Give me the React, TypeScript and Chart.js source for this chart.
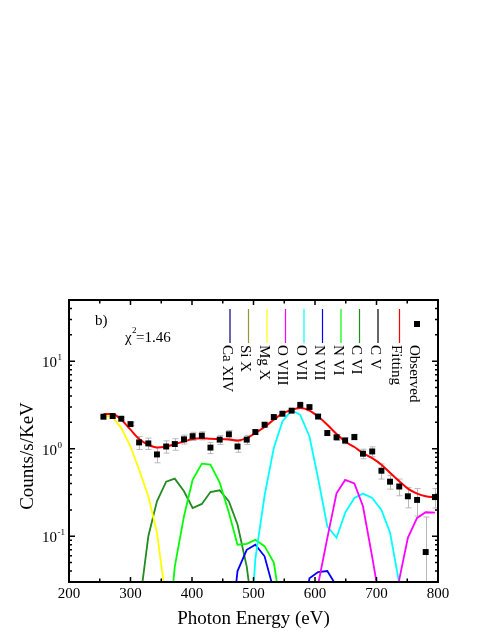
import React, { useEffect, useRef } from "react";
import { Chart, registerables } from "chart.js";

Chart.register(...registerables);

// Photon energy grid (eV) shared by observed points and model components
const energies = [256, 271, 285, 300, 314, 329, 343, 358, 372, 387, 401, 416, 430, 445, 460, 474, 489, 503, 518, 533, 547, 562, 576, 591, 605, 620, 635, 649, 664, 678, 693, 708, 722, 737, 751, 766, 780, 795];

// Observed spectrum (Counts/s/KeV) and its error
const observed = [2.32, 2.36, 2.2, 1.91, 1.18, 1.15, 0.86, 1.06, 1.13, 1.28, 1.39, 1.41, 1.03, 1.27, 1.46, 1.06, 1.27, 1.55, 1.88, 2.3, 2.51, 2.72, 3.17, 2.99, 2.33, 1.51, 1.35, 1.24, 1.36, 0.877, 0.93, 0.56, 0.42, 0.37, 0.286, 0.26, 0.066, 0.28];
const observedErr = [0.07, 0.07, 0.07, 0.07, 0.2, 0.17, 0.17, 0.17, 0.17, 0.15, 0.15, 0.15, 0.15, 0.15, 0.15, 0.15, 0.15, 0.1, 0.1, 0.1, 0.1, 0.1, 0.1, 0.1, 0.1, 0.1, 0.1, 0.1, 0.1, 0.11, 0.12, 0.11, 0.075, 0.08, 0.075, 0.09, 0.1, 0.07];

// Total model fit
const fitting = [2.5, 2.5, 2.14, 1.65, 1.29, 1.11, 1.035, 1.06, 1.13, 1.21, 1.29, 1.32, 1.3, 1.29, 1.27, 1.24, 1.32, 1.51, 1.77, 2.14, 2.51, 2.78, 2.91, 2.73, 2.33, 1.88, 1.47, 1.21, 1.045, 0.893, 0.78, 0.657, 0.53, 0.424, 0.35, 0.307, 0.286, 0.279];

const N = null;
// Line components (null = not computed at that energy)
const caXIV: (number | null)[] = []; // below plotted range
const siX: (number | null)[] = []; // below plotted range
const mgX = [2.4, 2.3, 1.72, 1.06, 0.575, 0.286, 0.11, 0.018, 0.003, N, N, N, N, N, N, N, N, N, N, N, N, N, N, N, N, N, N, N, N, N, N, N, N, N, N, N, N, N];
const oVIII = [N, N, N, N, N, N, N, N, N, N, N, N, N, N, N, N, N, N, N, N, N, N, N, 0.001, 0.028, 0.095, 0.31, 0.44, 0.4, 0.22, 0.058, 0.014, 0.002, 0.032, 0.096, 0.162, 0.188, 0.186];
const oVII = [N, N, N, N, N, N, N, N, N, N, N, N, N, N, N, N, 0.002, 0.055, 0.29, 1.02, 2.05, 2.75, 2.44, 1.38, 0.46, 0.13, 0.096, 0.185, 0.274, 0.307, 0.274, 0.2, 0.11, 0.029, 0.003, N, N, N];
const nVII = [N, N, N, N, N, N, N, N, N, N, N, N, N, N, 0.005, 0.04, 0.07, 0.08, 0.059, 0.024, 0.003, 0.001, 0.008, 0.033, 0.039, 0.04, 0.027, 0.004, N, N, N, N, N, N, N, N, N, N];
const nVI = [N, N, N, N, N, N, 0.001, 0.004, 0.045, 0.17, 0.44, 0.675, 0.658, 0.41, 0.185, 0.08, 0.082, 0.091, 0.077, 0.05, 0.012, 0.002, N, N, N, N, N, N, N, N, N, N, N, N, N, N, N, N];
const cVI = [N, N, N, 0.001, 0.015, 0.1, 0.25, 0.42, 0.455, 0.326, 0.21, 0.234, 0.32, 0.335, 0.25, 0.136, 0.045, 0.008, 0.001, N, N, N, N, N, N, N, N, N, N, N, N, N, N, N, N, N, N, N];
const cV: (number | null)[] = []; // below plotted range

const xMajor = [200, 300, 400, 500, 600, 700, 800];
const xMinor = [250, 350, 450, 550, 650, 750];
const yMajor = [0.1, 1, 10];
const yMajorExp = ["-1", "0", "1"];
const yMinor = [0.03, 0.04, 0.05, 0.06, 0.07, 0.08, 0.09, 0.2, 0.3, 0.4, 0.5, 0.6, 0.7, 0.8, 0.9, 2, 3, 4, 5, 6, 7, 8, 9, 20, 30, 40, 50];

const SERIF = "'Liberation Serif', 'Times New Roman', serif";

const overlay = {
  id: "overlay",
  beforeDatasetsDraw(chart: any) {
    const { ctx, chartArea: ca, scales } = chart;
    const x = scales.x, y = scales.y;
    ctx.save();
    ctx.beginPath();
    ctx.rect(ca.left, ca.top, ca.right - ca.left, ca.bottom - ca.top);
    ctx.clip();
    ctx.strokeStyle = "#b8b8b8";
    ctx.lineWidth = 1;
    energies.forEach((e, i) => {
      const v = observed[i];
      const err = observedErr[i];
      const px = Math.round(x.getPixelForValue(e)) + 0.5;
      const top = y.getPixelForValue(v + err);
      const lo = v - err;
      const bot = lo > 0 ? y.getPixelForValue(lo) : ca.bottom + 10;
      ctx.beginPath();
      ctx.moveTo(px, top);
      ctx.lineTo(px, bot);
      ctx.moveTo(px - 3, top);
      ctx.lineTo(px + 3, top);
      ctx.moveTo(px - 3, bot);
      ctx.lineTo(px + 3, bot);
      ctx.stroke();
    });
    ctx.restore();
  },
  afterDraw(chart: any) {
    const { ctx, chartArea: ca, scales } = chart;
    const x = scales.x, y = scales.y;
    ctx.save();
    ctx.strokeStyle = "#000";
    ctx.fillStyle = "#000";

    // ticks (inward, mirrored)
    ctx.lineWidth = 1.5;
    const xt = (v: number, len: number) => {
      const px = x.getPixelForValue(v);
      ctx.beginPath();
      ctx.moveTo(px, ca.bottom);
      ctx.lineTo(px, ca.bottom - len);
      ctx.moveTo(px, ca.top);
      ctx.lineTo(px, ca.top + len);
      ctx.stroke();
    };
    const yt = (v: number, len: number) => {
      const py = y.getPixelForValue(v);
      ctx.beginPath();
      ctx.moveTo(ca.left, py);
      ctx.lineTo(ca.left + len, py);
      ctx.moveTo(ca.right, py);
      ctx.lineTo(ca.right - len, py);
      ctx.stroke();
    };
    xMajor.forEach((v) => xt(v, 5));
    xMinor.forEach((v) => xt(v, 3.5));
    yMajor.forEach((v) => yt(v, 6));
    yMinor.forEach((v) => yt(v, 3));

    // frame
    ctx.lineWidth = 2;
    ctx.strokeRect(ca.left, ca.top, ca.right - ca.left, ca.bottom - ca.top);

    // x tick labels
    ctx.font = `15px ${SERIF}`;
    ctx.textAlign = "center";
    ctx.textBaseline = "alphabetic";
    xMajor.forEach((v) => {
      ctx.fillText(String(v), x.getPixelForValue(v), ca.bottom + 15.5);
    });

    // y tick labels 10^n
    yMajor.forEach((v, i) => {
      const py = y.getPixelForValue(v);
      ctx.font = `15px ${SERIF}`;
      ctx.textAlign = "right";
      ctx.fillText("10", ca.left - 12, py + 6);
      ctx.font = `9px ${SERIF}`;
      ctx.textAlign = "left";
      ctx.fillText(yMajorExp[i], ca.left - 11.5, py - 1);
    });

    // axis titles
    ctx.font = `19px ${SERIF}`;
    ctx.textAlign = "center";
    ctx.fillText("Photon Energy (eV)", (ca.left + ca.right) / 2 + 0, ca.bottom + 42);
    ctx.save();
    ctx.translate(32.5, (ca.top + ca.bottom) / 2 + 15);
    ctx.rotate(-Math.PI / 2);
    ctx.fillText("Counts/s/KeV", 0, 0);
    ctx.restore();

    // panel label and chi-square
    ctx.font = `15px ${SERIF}`;
    ctx.textAlign = "left";
    ctx.fillText("b)", ca.left + 26, ca.top + 25);
    ctx.fillText("\u03c7", ca.left + 56, ca.top + 42);
    ctx.font = `9px ${SERIF}`;
    ctx.fillText("2", ca.left + 63, ca.top + 33);
    ctx.font = `15px ${SERIF}`;
    ctx.fillText("=1.46", ca.left + 67, ca.top + 42);

    // legend (vertical lines + rotated labels)
    const ds = chart.data.datasets;
    const lineTop = ca.top + 9;
    const lineBot = ca.top + 43;
    ds.forEach((d: any, i: number) => {
      let lx: number;
      if (i < 9) lx = 230 + 18.5 * i;
      else if (i === 9) lx = 399.5;
      else lx = 417;
      if (d.label === "Observed") {
        ctx.fillStyle = "#000";
        ctx.fillRect(lx - 3, ca.top + 21, 6, 6);
      } else {
        ctx.strokeStyle = d.borderColor;
        ctx.lineWidth = 1.2;
        ctx.beginPath();
        ctx.moveTo(lx, lineTop);
        ctx.lineTo(lx, lineBot);
        ctx.stroke();
      }
      ctx.save();
      ctx.fillStyle = "#000";
      ctx.font = `15px ${SERIF}`;
      ctx.translate(lx - 3.5, ca.top + 45);
      ctx.rotate(Math.PI / 2);
      ctx.textAlign = "left";
      ctx.textBaseline = "middle";
      ctx.fillText(d.label, 0, 0);
      ctx.restore();
    });

    ctx.restore();
  },
};

export default function App() {
  const ref = useRef<HTMLCanvasElement>(null);
  useEffect(() => {
    document.body.style.margin = "0";
    const pts = (arr: (number | null)[]) =>
      energies
        .map((e, i) => ({ x: e, y: arr[i] }))
        .filter((p) => p.y !== null && p.y !== undefined);
    const line = (label: string, color: string, arr: (number | null)[], order: number) => ({
      type: "line",
      label,
      data: pts(arr),
      borderColor: color,
      backgroundColor: color,
      borderWidth: 1.8,
      pointRadius: 0,
      fill: false,
      tension: 0,
      order,
    });
    const datasets: any[] = [
      line("Ca XIV", "#000080", caXIV, 2),
      line("Si X", "#969632", siX, 2),
      line("Mg X", "#FFFF00", mgX, 2),
      line("O VIII", "#FF00FF", oVIII, 2),
      line("O VII", "#00FFFF", oVII, 2),
      line("N VII", "#0000FF", nVII, 2),
      line("N VI", "#00FF00", nVI, 2),
      line("C VI", "#228B22", cVI, 2),
      line("C V", "#000000", cV, 2),
      { ...line("Fitting", "#FF0000", fitting, 1), cubicInterpolationMode: "monotone", borderWidth: 2 },
      {
        type: "line",
        label: "Observed",
        data: pts(observed),
        showLine: false,
        pointStyle: "rect",
        pointRadius: 4.2,
        pointBackgroundColor: "#000",
        pointBorderColor: "#000",
        pointBorderWidth: 0,
        backgroundColor: "#000",
        borderColor: "#000",
        order: 0,
      },
    ];
    const chart = new Chart(ref.current as HTMLCanvasElement, {
      type: "line",
      data: { datasets },
      options: {
        animation: false,
        responsive: false,
        devicePixelRatio: 1,
        events: [],
        layout: { padding: { top: 300, right: 53, left: 0, bottom: 0 } },
        plugins: { legend: { display: false }, tooltip: { enabled: false } },
        scales: {
          x: {
            type: "linear",
            min: 200,
            max: 800,
            grid: { display: false },
            border: { display: false },
            ticks: { display: false },
            afterFit: (s: any) => {
              s.height = 53;
            },
          },
          y: {
            type: "logarithmic",
            min: 0.03,
            max: 50,
            grid: { display: false },
            border: { display: false },
            ticks: { display: false },
            afterFit: (s: any) => {
              s.width = 69;
            },
          },
        },
      } as any,
      plugins: [overlay],
    });
    return () => chart.destroy();
  }, []);
  return (
    <div style={{ position: "absolute", left: 0, top: 0, width: 491, height: 635, background: "#fff" }}>
      <canvas ref={ref} width={491} height={635} style={{ display: "block" }} />
    </div>
  );
}
